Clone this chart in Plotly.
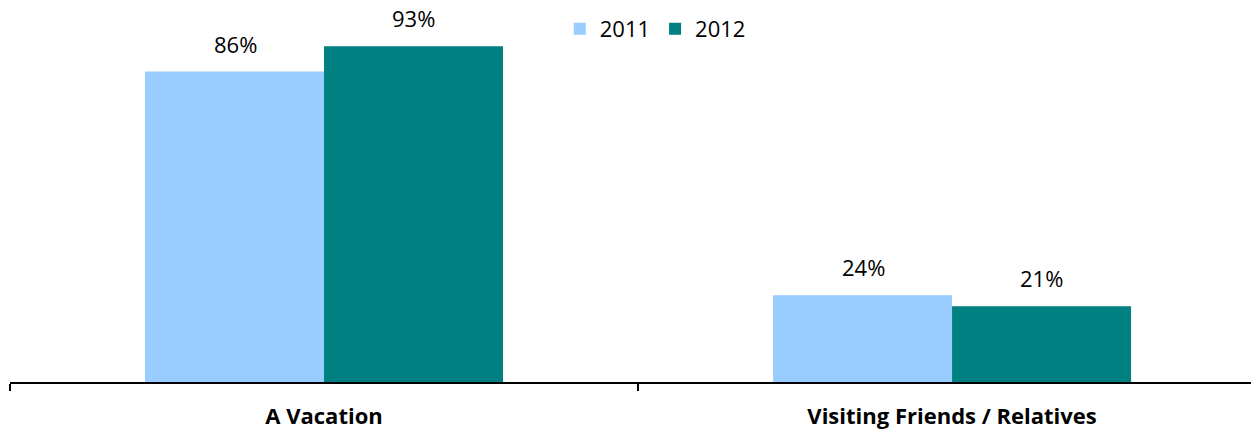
import plotly.graph_objects as go

categories = ["A Vacation", "Visiting Friends / Relatives"]
series_names = ["2011", "2012"]
values_2011 = [86, 24]
values_2012 = [93, 21]
colors = ["#99CCFF", "#008080"]

FONT = "Open Sans"

fig = go.Figure()
for name, vals, col in zip(series_names, [values_2011, values_2012], colors):
    fig.add_trace(go.Bar(x=categories, y=vals, name=name, marker_color=col,
                         marker_line_width=0))

# value labels
for i, (name, vals) in enumerate(zip(series_names, [values_2011, values_2012])):
    for cat, v in zip(categories, vals):
        fig.add_annotation(x=cat, y=v, text=f"{v}%", showarrow=False,
                           xshift=(-89 if i == 0 else 89), yanchor="bottom", yshift=11,
                           font=dict(family=FONT, size=22, color="#000000"))

fig.update_layout(
    width=1251, height=431,
    margin=dict(l=10, r=0, t=8, b=49, pad=0),
    paper_bgcolor="white", plot_bgcolor="white",
    barmode="group", bargap=0.43, bargroupgap=0,
    showlegend=True,
    legend=dict(orientation="h", x=0.443, y=1.0, xanchor="left", yanchor="top",
                font=dict(family=FONT, size=22, color="#000000"),
                itemwidth=30, bgcolor="rgba(0,0,0,0)", traceorder="normal"),
    font=dict(family=FONT, size=22, color="#000000"),
)
fig.update_xaxes(range=[-0.5, 1.476], showline=True, linecolor="#000000", linewidth=2,
                 ticks="outside", tickson="boundaries", ticklen=7, tickwidth=2,
                 tickcolor="#000000", showgrid=False, automargin=False,
                 ticklabelstandoff=14,
                 tickfont=dict(family=FONT, size=22, color="#000000", weight="bold"))
fig.update_yaxes(range=[0, 103.6], visible=False, showgrid=False, zeroline=False,
                 automargin=False)

fig.write_html("out.html", config={"displayModeBar": False},
               post_script="document.body.style.margin='0';")
